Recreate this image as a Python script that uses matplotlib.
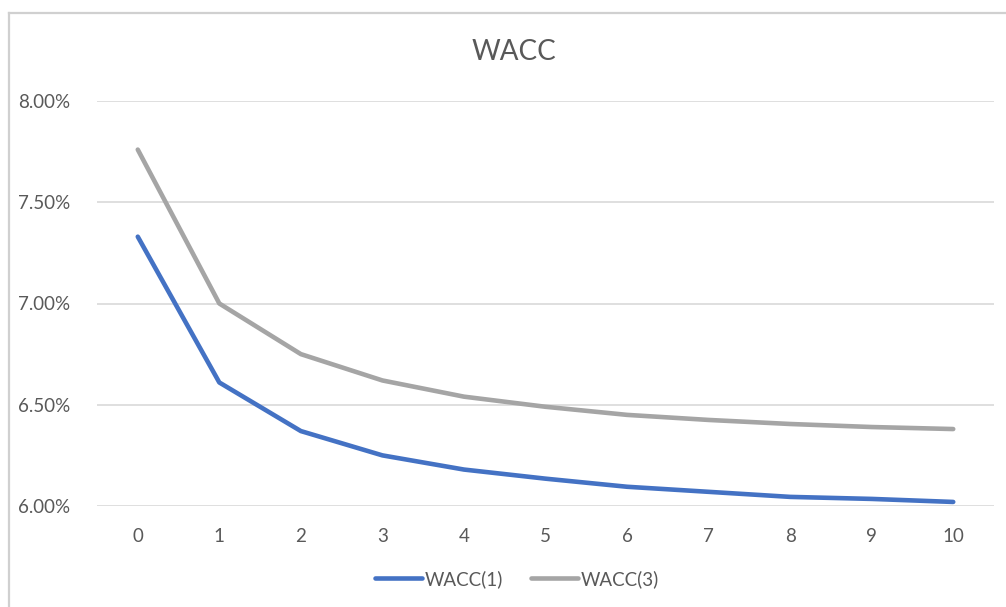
import matplotlib
matplotlib.use("Agg")
import matplotlib.pyplot as plt
from matplotlib.lines import Line2D
from matplotlib.ticker import FuncFormatter

periods = [0, 1, 2, 3, 4, 5, 6, 7, 8, 9, 10]
wacc1 = [7.33, 6.61, 6.37, 6.25, 6.18, 6.135, 6.095, 6.07, 6.045, 6.035, 6.02]
wacc3 = [7.76, 7.00, 6.75, 6.62, 6.54, 6.49, 6.45, 6.425, 6.405, 6.39, 6.38]
series_names = ["WACC(1)", "WACC(3)"]
title = "WACC"
y_ticks = [6.0, 6.5, 7.0, 7.5, 8.0]

plt.rcParams['font.family'] = ['Lato', 'DejaVu Sans']
txt = "#595959"

fig = plt.figure(figsize=(10.06, 6.07), dpi=100)
fig.patch.set_facecolor("white")

# chart area border (left and top)
fig.add_artist(Line2D([8.5/1006, 8.5/1006], [0, 1 - 12.5/607], transform=fig.transFigure,
                      color="#D0D0D0", lw=1.6))
fig.add_artist(Line2D([8.5/1006, 1], [1 - 12.5/607, 1 - 12.5/607], transform=fig.transFigure,
                      color="#D0D0D0", lw=1.6))

ax = fig.add_axes([97/1006, (607-506)/607, 897/1006, 405/607])
ax.plot(periods, wacc1, color="#4472C4", lw=3.3, solid_capstyle="round", label=series_names[0], zorder=3)
ax.plot(periods, wacc3, color="#A5A5A5", lw=3.3, solid_capstyle="round", label=series_names[1], zorder=3)

ax.set_xlim(-0.5, 10.5)
ax.set_ylim(6.0, 8.0)
ax.set_xticks(periods)
ax.set_yticks(y_ticks)
ax.yaxis.set_major_formatter(FuncFormatter(lambda v, p: f"{v:.2f}%"))
ax.grid(axis="y", color="#D9D9D9", lw=1.2)
ax.set_axisbelow(True)
for s in ax.spines.values():
    s.set_visible(False)
ax.tick_params(axis="both", length=0, labelsize=13.5, colors=txt)
ax.tick_params(axis="y", pad=19)
ax.tick_params(axis="x", pad=16)

fig.text(514/1006, 1 - 52/607, title, ha="center", va="center", fontsize=20, color=txt)

fig.legend(loc="center", bbox_to_anchor=(517/1006, 1 - 579/607), ncol=2, frameon=False,
           fontsize=13.5, labelcolor=txt, handlelength=2.5, handletextpad=0.15, columnspacing=1.5)

fig.savefig("out.png", dpi=100, facecolor="white")
